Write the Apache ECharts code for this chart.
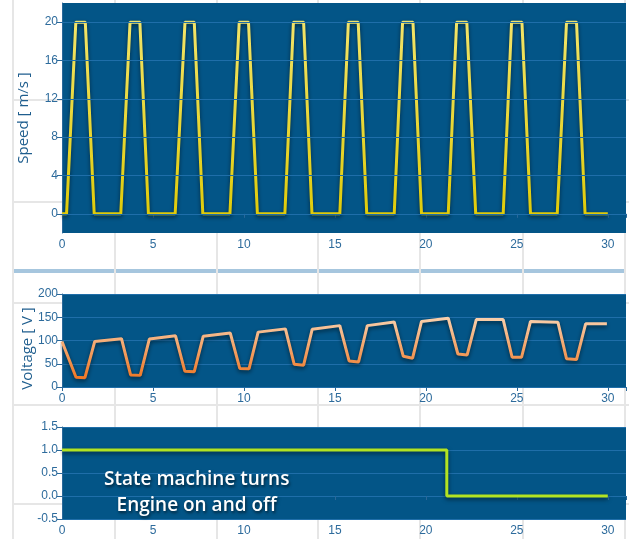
<!DOCTYPE html>
<html>
<head>
<meta charset="utf-8">
<script src="https://cdn.jsdelivr.net/npm/echarts@6/dist/echarts.min.js"></script>
<style>
  html, body { margin: 0; padding: 0; background: #ffffff; }
  #wrap { position: relative; width: 629px; height: 539px; overflow: hidden; }
  #chart { position: absolute; left: 0; top: 0; width: 629px; height: 539px; z-index: 2; }
  .pg { position: absolute; background: #e6e6e6; z-index: 0; }
</style>
</head>
<body>
<div id="wrap"><div id="chart"></div></div>
<script>
// ─── data ───

const speedTime = [
  0, 0.25,
  0.76, 1.28, 1.77, 3.23,
  3.74, 4.28, 4.75, 6.22,
  6.76, 7.27, 7.74, 9.23,
  9.74, 10.25, 10.74, 12.25,
  12.72, 13.28, 13.74, 15.27,
  15.74, 16.28, 16.75, 18.26,
  18.72, 19.29, 19.76, 21.23,
  21.69, 22.25, 22.74, 24.25,
  24.71, 25.28, 25.75, 27.22,
  27.73, 28.28, 28.75, 30,
];
const speedValues = [
  0, 0,
  20, 20, 0, 0,
  20, 20, 0, 0,
  20, 20, 0, 0,
  20, 20, 0, 0,
  20, 20, 0, 0,
  20, 20, 0, 0,
  20, 20, 0, 0,
  20, 20, 0, 0,
  20, 20, 0, 0,
  20, 20, 0, 0,
];

const voltageTime = [
  0, 0.77, 1.26, 1.8, 3.27, 3.77, 4.3, 4.8, 6.24, 6.75, 7.27, 7.76, 9.25, 9.77,
  10.28, 10.78, 12.28, 12.76, 13.28, 13.75, 15.27, 15.78, 16.3, 16.78, 18.26, 18.76,
  19.27, 19.76, 21.23, 21.76, 22.27, 22.77, 24.25, 24.74, 25.26, 25.75, 27.26, 27.73,
  28.28, 28.78, 29.95,
];
const voltageValues = [
  98, 21, 20, 98, 104, 26, 25, 103, 110, 34, 33, 109, 116, 40,
  39, 118, 125, 49, 47, 124, 132, 56, 54, 132, 140, 66,
  62, 141, 148, 71, 69, 145, 145, 64, 64, 141, 139, 61,
  59, 136, 136,
];

const stateTime = [0, 21.15, 21.15, 30];
const stateValues = [1, 1, 0, 0];

const xTicks = [0, 5, 10, 15, 20, 25, 30];
const speedTicks = [0, 4, 8, 12, 16, 20];
const voltageTicks = [0, 50, 100, 150, 200];
const stateTicks = [-0.5, 0, 0.5, 1, 1.5];

const annotation = 'State machine turns\nEngine on and off';

// ─── style ───

const PLOT_BG = '#035587';
const GRID_LINE = '#1f6ea9';
const AXIS = '#2a6899';
const LABEL = '#2d6b9c';
const NAME = '#1f5e8e';
const FONT = "'Liberation Sans', Arial, sans-serif";

// plot panels (pixels) — also used to keep the page grid out of them
const PANELS = [
  { left: 62, top: 3, height: 230 },
  { left: 62, top: 294, height: 93 },
  { left: 62, top: 427, height: 92 },
];
const PANEL_RIGHT = 626;

// page backdrop: light grid + separator bar (plain divs behind the canvas)
const wrap = document.getElementById('wrap');
function pageRect(x, y, w, h, color) {
  const d = document.createElement('div');
  d.className = 'pg';
  d.style.cssText = `left:${x}px;top:${y}px;width:${w}px;height:${h}px;` + (color ? `background:${color};` : '');
  wrap.insertBefore(d, wrap.firstChild);
}
[13, 115, 217, 318, 420, 523, 625].forEach((x) => pageRect(x - 1, 0, 2, 539));
[100, 202, 303, 405, 504].forEach((y) => pageRect(13, y - 1, 616, 2));
pageRect(13, 269, 612, 4, '#a6c6de');

const zip = (xs, ys) => xs.map((x, i) => [x, ys[i]]);

function xAxisFor(gridIndex) {
  return {
    type: 'value',
    gridIndex,
    min: 0,
    max: 31,
    interval: 5,
    axisLine: { show: false },
    axisTick: { show: true, length: 4, lineStyle: { color: AXIS } },
    axisLabel: {
      color: LABEL, fontFamily: FONT, fontSize: 12, margin: 6,
      formatter: (v) => (xTicks.includes(v) ? String(v) : ''),
    },
    splitLine: { show: false },
  };
}

const yLabel = { color: LABEL, fontFamily: FONT, fontSize: 12, margin: 4 };
const yTick = { show: true, length: 5, lineStyle: { color: AXIS } };
const yLine = { show: true, lineStyle: { color: AXIS, width: 1 } };
const nameStyle = { color: NAME, fontFamily: "'Open Sans', sans-serif", fontSize: 15 };
const shadow = { shadowColor: 'rgba(0,0,0,0.55)', shadowBlur: 4, shadowOffsetY: 2 };

function vGrad(top, bottom) {
  return new echarts.graphic.LinearGradient(0, 0, 0, 1, [
    { offset: 0, color: top },
    { offset: 1, color: bottom },
  ]);
}

const chart = echarts.init(document.getElementById('chart'), null, { renderer: 'canvas' });

chart.setOption({
  animation: false,
  backgroundColor: 'rgba(0,0,0,0)',
  graphic: [
    // opaque panel backgrounds so nothing behind the canvas shows through
    ...PANELS.map((p) => ({
      type: 'rect', z: -1, silent: true,
      shape: { x: p.left, y: p.top, width: PANEL_RIGHT - p.left, height: p.height },
      style: { fill: PLOT_BG },
    })),
    {
      type: 'text', z: 100, left: 104, top: 467,
      style: {
        text: annotation, fill: '#ffffff', font: "600 19px 'Open Sans', sans-serif",
        textAlign: 'center', lineHeight: 26, x: 90, y: 0,
        textShadowColor: 'rgba(0,0,0,0.6)', textShadowBlur: 3, textShadowOffsetX: 1, textShadowOffsetY: 2,
      },
    },
  ],
  grid: PANELS.map((p) => ({
    left: p.left, right: 629 - PANEL_RIGHT, top: p.top, height: p.height,
    show: true, backgroundColor: PLOT_BG, borderWidth: 0,
  })),
  xAxis: [xAxisFor(0), xAxisFor(1), xAxisFor(2)],
  yAxis: [
    {
      type: 'value', gridIndex: 0, min: -2, max: 22,
      name: 'Speed [ m/s ]', nameLocation: 'middle', nameRotate: 90, nameGap: 31, nameMoveOverlap: false,
      nameTextStyle: nameStyle,
      axisLine: yLine,
      axisTick: { ...yTick, customValues: speedTicks },
      axisLabel: { ...yLabel, customValues: speedTicks },
      splitLine: { show: false },
    },
    {
      type: 'value', gridIndex: 1, min: 0, max: 200, interval: 50,
      name: 'Voltage [ V ]', nameLocation: 'middle', nameRotate: 90, nameGap: 27, nameMoveOverlap: false,
      nameTextStyle: { ...nameStyle, padding: [0, 0, 0, -16] },
      axisLine: yLine, axisTick: yTick, axisLabel: yLabel,
      splitLine: { show: true, lineStyle: { color: GRID_LINE, width: 1 } },
    },
    {
      type: 'value', gridIndex: 2, min: -0.5, max: 1.5, interval: 0.5,
      axisLine: yLine, axisTick: yTick,
      axisLabel: { ...yLabel, formatter: (v) => v.toFixed(1) },
      splitLine: { show: true, lineStyle: { color: GRID_LINE, width: 1 } },
    },
  ],
  series: [
    {
      // horizontal grid lines of the speed panel
      type: 'line', xAxisIndex: 0, yAxisIndex: 0, data: [], z: 1, silent: true,
      markLine: {
        silent: true, symbol: 'none', label: { show: false },
        lineStyle: { color: GRID_LINE, width: 1, type: 'solid' },
        data: speedTicks.map((v) => ({ yAxis: v })),
      },
    },
    {
      name: 'Speed', type: 'line', xAxisIndex: 0, yAxisIndex: 0, z: 3,
      data: zip(speedTime, speedValues), showSymbol: false,
      lineStyle: { width: 3, color: vGrad('#f2e46a', '#e0cb08'), ...shadow },
    },
    {
      name: 'Voltage', type: 'line', xAxisIndex: 1, yAxisIndex: 1, z: 3,
      data: zip(voltageTime, voltageValues), showSymbol: false,
      lineStyle: { width: 3, color: vGrad('#f9d2b0', '#ee7522'), ...shadow },
    },
    {
      name: 'State', type: 'line', xAxisIndex: 2, yAxisIndex: 2, z: 3,
      data: zip(stateTime, stateValues), showSymbol: false,
      lineStyle: { width: 3, color: '#b2e322', ...shadow },
    },
  ],
});
</script>
</body>
</html>
